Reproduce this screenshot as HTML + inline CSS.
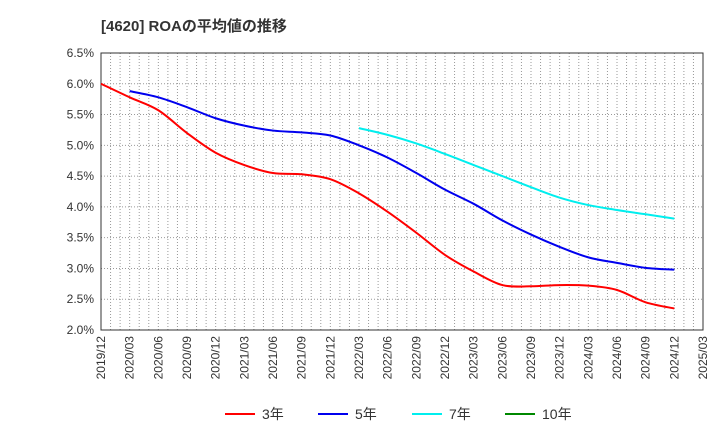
<!DOCTYPE html>
<html><head><meta charset="utf-8"><style>
body{margin:0;background:#fff;font-family:"Liberation Sans","Noto Sans CJK JP",sans-serif}
</style></head><body>
<svg id="c" width="720" height="440" xmlns="http://www.w3.org/2000/svg">
<text x="101" y="31" font-size="15" font-weight="bold" fill="#333">[4620]  ROAの平均値の推移</text>
<g id="grid"></g><g id="axes"></g><g id="series"></g><g id="legend"></g>
</svg>
<script>
const xLabels=["2019/12","2020/03","2020/06","2020/09","2020/12","2021/03","2021/06","2021/09","2021/12","2022/03","2022/06","2022/09","2022/12","2023/03","2023/06","2023/09","2023/12","2024/03","2024/06","2024/09","2024/12","2025/03"];
const yTicks=[2.0,2.5,3.0,3.5,4.0,4.5,5.0,5.5,6.0,6.5];
const roa3=[6.0,5.78,5.57,5.2,4.88,4.68,4.55,4.53,4.45,4.22,3.92,3.58,3.22,2.95,2.73,2.71,2.73,2.72,2.65,2.45,2.35];
const roa3Start=0;
const roa5=[5.88,5.78,5.62,5.44,5.32,5.24,5.21,5.16,5.0,4.8,4.55,4.28,4.05,3.78,3.55,3.35,3.18,3.09,3.01,2.98];
const roa5Start=1;
const roa7=[5.28,5.17,5.03,4.86,4.68,4.5,4.32,4.15,4.03,3.95,3.88,3.81];
const roa7Start=9;
const roa10=[];
const roa10Start=0;
const L=101,R=703,T=53,B=330,NS="http://www.w3.org/2000/svg";
const xs=i=>L+(R-L)*i/(xLabels.length-1);
const ys=v=>B-(B-T)*(v-2.0)/4.5;
function mk(tag,attrs,parent){const e=document.createElementNS(NS,tag);for(const k in attrs)e.setAttribute(k,attrs[k]);parent.appendChild(e);return e;}
const grid=document.getElementById('grid'),axes=document.getElementById('axes'),series=document.getElementById('series'),legend=document.getElementById('legend');
for(let m=1;m<(xLabels.length-1)*3;m++){const x=L+(R-L)*m/((xLabels.length-1)*3);
const l=mk('line',{x1:x,x2:x,y1:T,y2:B,stroke:'#999','stroke-dasharray':'1,2','stroke-width':1},grid);

}
yTicks.forEach(v=>{const y=ys(v);
const l=mk('line',{x1:L,x2:R,y1:y,y2:y,stroke:'#999','stroke-dasharray':'1,2'},grid);


const t=mk('text',{x:L-7,y:y+4,'text-anchor':'end','font-size':12,fill:'#333'},axes);t.textContent=v.toFixed(1)+'%';

});
xLabels.forEach((s,i)=>{const x=xs(i);
const t=mk('text',{transform:`translate(${x+4},${B+6}) rotate(-90)`,'text-anchor':'end','font-size':12,fill:'#333'},axes);t.textContent=s;

});
const fr=mk('rect',{x:L,y:T,width:R-L,height:B-T,fill:'none',stroke:'#333','stroke-width':1},axes);


function path(vals,start){const p=vals.map((v,i)=>[xs(start+i),ys(v)]);if(p.length<2)return '';
let d=`M${p[0][0]},${p[0][1]}`;for(let i=0;i<p.length-1;i++){const p0=p[i-1]||p[i],p1=p[i],p2=p[i+1],p3=p[i+2]||p2;
d+=` C${p1[0]+(p2[0]-p0[0])/6},${p1[1]+(p2[1]-p0[1])/6} ${p2[0]-(p3[0]-p1[0])/6},${p2[1]-(p3[1]-p1[1])/6} ${p2[0]},${p2[1]}`;}return d;}
[[roa3,roa3Start,'#ff0000','series-3yr'],[roa5,roa5Start,'#0000ee','series-5yr'],[roa7,roa7Start,'#00eeee','series-7yr'],[roa10,roa10Start,'#008800','series-10yr']].forEach(([v,s,c,n])=>{
const p=mk('path',{d:path(v,s),fill:'none',stroke:c,'stroke-width':2},series);

});
[['3年','#ff0000',225],['5年','#0000ee',318],['7年','#00eeee',412],['10年','#008800',505]].forEach(([t,c,x])=>{
const l=mk('line',{x1:x,x2:x+30,y1:414,y2:414,stroke:c,'stroke-width':2},legend);


const tx=mk('text',{x:x+37,y:419,'font-size':14,fill:'#333'},legend);tx.textContent=t;

});
</script>
</body></html>
